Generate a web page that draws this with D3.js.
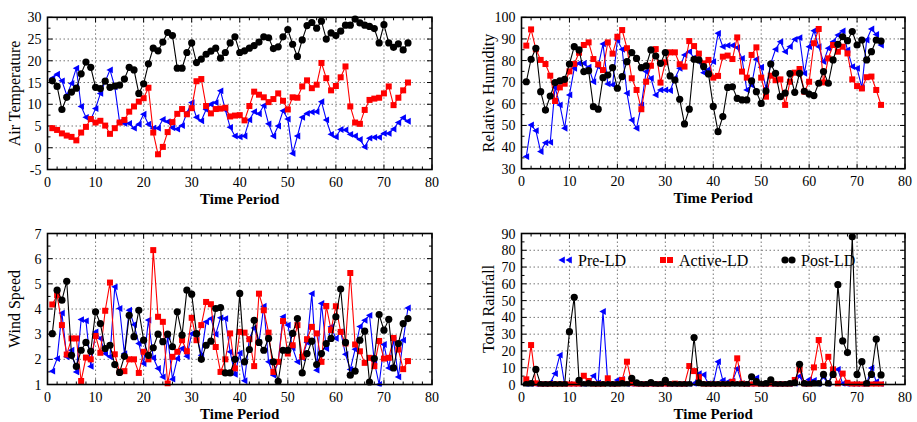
<!DOCTYPE html>
<html><head><meta charset="utf-8">
<script src="https://cdn.jsdelivr.net/npm/d3@7"></script>
<style>body{margin:0;background:#fff}svg{display:block}text{font-family:"Liberation Serif","Times New Roman",serif}</style>
</head><body><div id="chart"></div>
<script>
const seriesNames = ["Pre-LD", "Active-LD", "Post-LD"];
const xTicks = [0, 10, 20, 30, 40, 50, 60, 70, 80];

const tempTicks = [-5, 0, 5, 10, 15, 20, 25, 30];
const tempPre = [16.0,16.9,15.4,12.1,14.8,18.3,9.5,7.0,6.5,9.0,12.5,15.2,17.9,14.0,5.9,5.6,5.6,4.5,5.4,7.7,5.4,4.5,4.5,6.5,6.0,4.6,4.3,5.1,8.0,10.4,7.0,6.2,8.8,10.0,10.4,13.1,8.7,4.7,2.7,2.5,2.7,6.4,8.3,7.8,9.7,5.5,2.7,5.0,8.5,6.6,-1.3,2.7,7.0,7.9,8.2,8.3,10.6,6.4,3.1,2.5,4.2,4.1,3.1,2.7,1.9,0.2,2.2,2.4,2.4,3.3,3.3,4.3,5.8,6.9,6.1];
const tempActive = [4.5,4.1,3.3,2.8,2.5,1.7,3.5,4.8,6.6,5.8,6.2,5.1,3.2,4.5,5.8,6.4,8.3,9.5,10.6,11.4,13.8,3.5,-1.5,0.2,3.6,5.9,7.8,8.9,7.7,9.1,15.3,15.8,9.6,7.9,8.9,9.0,9.2,7.2,7.4,7.5,6.3,9.6,12.9,12.2,11.6,10.5,11.2,12.5,10.8,8.8,11.6,11.5,14.1,15.5,13.7,14.5,19.5,16.0,13.2,14.2,16.2,18.7,9.5,5.8,5.5,8.7,11.0,11.3,11.5,12.5,14.1,9.8,11.5,13.2,15.0];
const tempPost = [15.4,14.1,8.8,11.6,12.8,13.7,17.0,19.7,18.5,13.9,13.6,15.3,13.9,14.2,14.4,15.8,18.5,17.9,12.5,14.7,19.3,22.9,22.3,24.3,26.5,25.8,18.3,18.3,21.9,24.1,19.6,20.4,21.5,22.2,22.9,20.6,21.9,24.1,25.5,21.9,22.3,22.9,23.5,24.3,25.5,25.3,22.8,23.2,25.5,27.2,23.8,21.0,24.8,28.1,28.8,27.5,29.1,25.0,26.4,25.8,26.8,28.2,28.2,29.6,28.7,28.2,27.9,27.4,24.1,28.3,24.1,23.1,23.9,22.5,24.1];

const humTicks = [30, 40, 50, 60, 70, 80, 90, 100];
const humPre = [35.6,50.2,47.6,37.9,42.0,42.2,67.6,59.5,48.7,64.1,76.4,78.7,78.7,76.9,70.2,77.2,87.7,69.2,68.8,89.5,85.2,64.9,52.5,48.7,59.5,74.9,71.8,64.1,66.4,66.4,66.1,71.8,76.4,82.6,84.1,81.3,79.5,74.4,75.9,79.5,92.6,86.4,87.0,87.0,86.0,81.0,66.4,68.7,80.6,76.9,67.2,78.7,85.2,88.7,84.1,86.4,89.8,90.6,74.1,86.4,93.8,86.4,79.5,85.7,88.7,91.8,93.7,84.9,77.2,76.4,67.5,89.5,94.6,92.1,87.2];
const humActive = [86.9,94.4,85.2,80.3,78.4,73.0,61.3,67.6,69.3,75.0,78.4,83.6,87.2,88.4,80.7,78.2,75.6,88.4,83.2,91.0,94.1,85.7,71.8,66.4,57.5,70.2,77.6,85.3,69.8,79.2,83.8,83.8,78.3,77.2,89.0,86.7,83.2,78.7,80.3,72.1,72.9,81.8,82.3,80.7,90.7,74.9,72.1,82.6,86.1,72.1,63.3,73.0,70.9,71.3,59.5,70.2,74.4,76.1,65.6,70.2,88.0,94.6,69.9,81.0,87.2,84.1,86.4,83.3,71.3,68.2,67.1,72.3,72.6,66.4,59.5];
const humPost = [70.2,80.6,85.7,65.6,57.1,63.6,69.8,70.6,71.3,78.4,86.4,84.9,74.9,75.3,58.7,57.5,72.1,73.3,76.7,67.2,72.6,79.5,83.7,81.0,76.7,77.5,84.9,82.1,78.7,83.7,72.9,71.0,62.1,50.7,57.5,80.6,80.3,77.2,73.8,58.8,47.1,54.1,67.6,67.9,62.5,61.8,61.8,70.6,65.6,60.2,65.9,78.4,74.1,63.3,64.9,74.0,65.3,74.1,65.8,64.5,63.8,69.5,74.9,69.5,80.3,87.5,91.0,89.2,93.4,87.2,89.5,80.3,84.1,89.5,89.0];

const windTicks = [1, 2, 3, 4, 5, 6, 7];
const windPre = [1.53,2.03,3.84,2.10,2.36,1.50,3.58,3.53,1.72,3.09,2.83,2.23,2.10,4.88,4.02,2.23,3.95,3.38,2.63,1.83,3.56,2.06,1.64,1.30,2.89,1.21,2.03,2.43,2.12,3.02,2.99,2.16,3.49,3.62,2.99,3.65,3.62,2.30,1.40,2.25,1.15,2.83,3.25,2.67,4.11,1.90,1.37,1.90,3.69,3.36,2.46,1.90,2.06,2.67,4.61,1.57,4.22,2.43,3.29,2.83,3.10,2.20,1.60,2.40,3.30,3.55,3.75,1.90,1.00,2.59,1.66,2.76,1.30,2.76,4.04];
const windActive = [4.18,4.55,3.36,2.19,2.83,2.83,1.14,2.07,2.00,2.93,2.26,3.93,5.05,2.20,1.50,1.53,2.00,2.00,1.46,2.30,2.00,6.34,3.69,3.49,1.04,2.10,2.30,2.76,2.32,3.65,2.76,3.36,4.28,4.19,2.49,1.50,2.00,3.03,1.64,3.09,3.06,2.80,1.73,4.61,3.95,3.06,1.50,1.90,3.52,2.23,2.56,3.36,2.10,2.80,3.29,3.03,1.90,4.12,3.16,4.11,3.09,2.63,5.43,2.59,2.32,1.86,2.06,1.73,2.73,2.03,2.06,2.85,2.39,1.61,1.93];
const windPost = [3.02,4.75,4.35,5.10,2.16,1.72,2.36,2.67,2.32,3.89,3.42,2.43,2.56,1.79,1.48,2.12,3.75,2.90,3.95,2.76,2.16,2.46,3.00,2.70,3.00,2.50,3.89,2.96,4.75,4.59,3.02,2.00,2.56,2.72,4.02,4.06,1.46,1.46,2.00,4.62,1.90,2.39,3.55,2.67,2.36,2.83,1.90,1.13,2.36,2.36,3.03,3.62,1.46,2.23,2.72,1.79,2.23,2.63,2.83,3.69,4.79,2.67,1.37,1.53,2.76,3.12,1.10,2.03,3.78,3.16,3.59,1.66,2.63,3.42,3.62];

const rainTicks = [0, 10, 20, 30, 40, 50, 60, 70, 80, 90];
const rainPre = [0,0,0,0,0,1,6.5,17.5,0,0,0,0,0,1,5.2,1,43.5,0.5,0,2.7,3,0,0,0,0,0,0,0,0,0,0,0,0,0,0,0.5,6.4,5.8,0.5,0,13.6,2.5,1.5,2,9.5,0.5,0,0,4,0,0,0,0,0,0,0,0.5,5,0,3,2.5,0,4.6,0,8.6,9,0.5,0,0,0,0,0.5,9.9,1.7,0];
const rainActive = [3.1,23.5,0.7,0,0,0,0,0,0,0,0,0,5.2,2.1,0,0,0,3.7,0,0,2.7,13.6,0.7,0,0,0,0,0,0,0,0,0.5,0,0,11,8,4.4,0,0,0,0,0,0,1.6,15.6,0.5,0,0,0,0,0,0,0,0,0,0,2.7,9,0.5,0,10.2,26.5,11,16.5,9,0.5,6.5,1,0,0,0,0,0,0,0];
const rainPost = [0,0.5,9,0,0,0,0,0,0,31.5,52,2.5,0,0.5,0,0,0,0,0,0,0.5,0,3.7,1,0,0,1.2,0,0,2.5,0,0,0,0,0,28,1,0,0,0,0,0,0,0,0,0,0,4.6,1.7,0,0.5,2.7,0,0,0,0.5,1,12,0.5,0,0.5,0.5,6,0.5,6,59.5,26,19,88,6,13.6,0.5,6,27,5.7];

const colors = ["#0000ff", "#ff0000", "#000000"];

const svg = d3.select("#chart").append("svg").attr("width", 917).attr("height", 422);

function marker(g, k, x, y) {
  if (k === 0) {
    g.append("path").attr("d", `M${x-3.6},${y} L${x+2.8},${y-3.4} L${x+2.8},${y+3.4} Z`).attr("fill", colors[0]);
  } else if (k === 1) {
    g.append("rect").attr("x", x-3).attr("y", y-3).attr("width", 6).attr("height", 6).attr("fill", colors[1]);
  } else {
    g.append("circle").attr("cx", x).attr("cy", y).attr("r", 3.6).attr("fill", colors[2]);
  }
}

function panel(cfg) {
  const x = d3.scaleLinear().domain([0, 80]).range([cfg.x0, cfg.x1]);
  const y = d3.scaleLinear().domain([cfg.yTicks[0], cfg.yTicks[cfg.yTicks.length-1]]).range([cfg.y1, cfg.y0]);
  const g = svg.append("g");
  // grid
  g.append("g").selectAll("line").data(xTicks.slice(1, -1)).join("line")
    .attr("x1", d => x(d)).attr("x2", d => x(d)).attr("y1", cfg.y0).attr("y2", cfg.y1)
    .attr("stroke", "#777").attr("stroke-width", 1).attr("stroke-dasharray", "1.5,2.5");
  g.append("g").selectAll("line").data(cfg.yTicks.slice(1, -1)).join("line")
    .attr("y1", d => y(d)).attr("y2", d => y(d)).attr("x1", cfg.x0).attr("x2", cfg.x1)
    .attr("stroke", "#777").attr("stroke-width", 1).attr("stroke-dasharray", "1.5,2.5");
  // ticks inside, all four sides
  const ymin = cfg.yTicks[0], ymax = cfg.yTicks[cfg.yTicks.length-1];
  const xMinor = d3.range(0, 81, 2).filter(v => v % 10 !== 0);
  const yMajor = cfg.yTicks;
  const yMinor = yMajor.slice(0, -1).map((v, i) => (v + yMajor[i+1]) / 2);
  const tk = g.append("g").attr("stroke", "#000").attr("stroke-width", 1);
  [[xTicks, 5], [xMinor, 3]].forEach(([arr, len]) => {
    arr.forEach(v => {
      tk.append("line").attr("x1", x(v)).attr("x2", x(v)).attr("y1", cfg.y1).attr("y2", cfg.y1 - len);
      tk.append("line").attr("x1", x(v)).attr("x2", x(v)).attr("y1", cfg.y0).attr("y2", cfg.y0 + len);
    });
  });
  [[yMajor, 5], [yMinor, 3]].forEach(([arr, len]) => {
    arr.forEach(v => {
      tk.append("line").attr("y1", y(v)).attr("y2", y(v)).attr("x1", cfg.x0).attr("x2", cfg.x0 + len);
      tk.append("line").attr("y1", y(v)).attr("y2", y(v)).attr("x1", cfg.x1).attr("x2", cfg.x1 - len);
    });
  });
  // series
  const clipId = "clip" + cfg.id;
  svg.append("clipPath").attr("id", clipId).append("rect")
    .attr("x", cfg.x0 - 5).attr("y", cfg.y0 - 6).attr("width", cfg.x1 - cfg.x0 + 10).attr("height", cfg.y1 - cfg.y0 + 8);
  const sg = g.append("g").attr("clip-path", `url(#${clipId})`);
  cfg.series.forEach((vals, k) => {
    const line = d3.line().x((d, i) => x(i + 1)).y(d => y(d));
    sg.append("path").attr("d", line(vals)).attr("fill", "none").attr("stroke", colors[k]).attr("stroke-width", 1.1);
    const mg = sg.append("g");
    vals.forEach((d, i) => marker(mg, k, x(i + 1), y(d)));
  });
  // frame
  g.append("rect").attr("x", cfg.x0).attr("y", cfg.y0).attr("width", cfg.x1 - cfg.x0).attr("height", cfg.y1 - cfg.y0)
    .attr("fill", "none").attr("stroke", "#000").attr("stroke-width", 1.6);
  // tick labels
  g.append("g").selectAll("text").data(xTicks).join("text")
    .attr("x", d => x(d)).attr("y", cfg.y1 + 17).attr("text-anchor", "middle").attr("font-size", 14).text(d => d);
  g.append("g").selectAll("text").data(cfg.yTicks).join("text")
    .attr("x", cfg.x0 - 6).attr("y", d => y(d) + 5).attr("text-anchor", "end").attr("font-size", 14).text(d => d);
  // titles
  g.append("text").attr("x", (cfg.x0 + cfg.x1) / 2).attr("y", cfg.y1 + 34).attr("text-anchor", "middle")
    .attr("font-size", 15).attr("font-weight", "bold").text("Time Period");
  g.append("text").attr("transform", `translate(${cfg.x0 - 28},${(cfg.y0 + cfg.y1) / 2}) rotate(-90)`)
    .attr("text-anchor", "middle").attr("font-size", 16).text(cfg.yLabel);
  return g;
}

panel({id: 1, x0: 47.5, x1: 432, y0: 17.3, y1: 169.5, yTicks: tempTicks, yLabel: "Air Temperature", series: [tempPre, tempActive, tempPost]});
panel({id: 2, x0: 521.5, x1: 905, y0: 17.3, y1: 168.7, yTicks: humTicks, yLabel: "Relative Humidity", series: [humPre, humActive, humPost]});
panel({id: 3, x0: 47.5, x1: 432, y0: 233.5, y1: 384.5, yTicks: windTicks, yLabel: "Wind Speed", series: [windPre, windActive, windPost]});
const p4 = panel({id: 4, x0: 521.5, x1: 905, y0: 233.5, y1: 384.5, yTicks: rainTicks, yLabel: "Total Rainfall", series: [rainPre, rainActive, rainPost]});

// legend
const leg = [{mx: 562, tx: 578}, {mx: 663, tx: 679}, {mx: 785, tx: 801}];
leg.forEach((l, k) => {
  marker(p4, k, l.mx, 260);
  marker(p4, k, l.mx + 7, 260);
  p4.append("text").attr("x", l.tx).attr("y", 265.5).attr("font-size", 16).text(seriesNames[k]);
});
</script></body></html>
